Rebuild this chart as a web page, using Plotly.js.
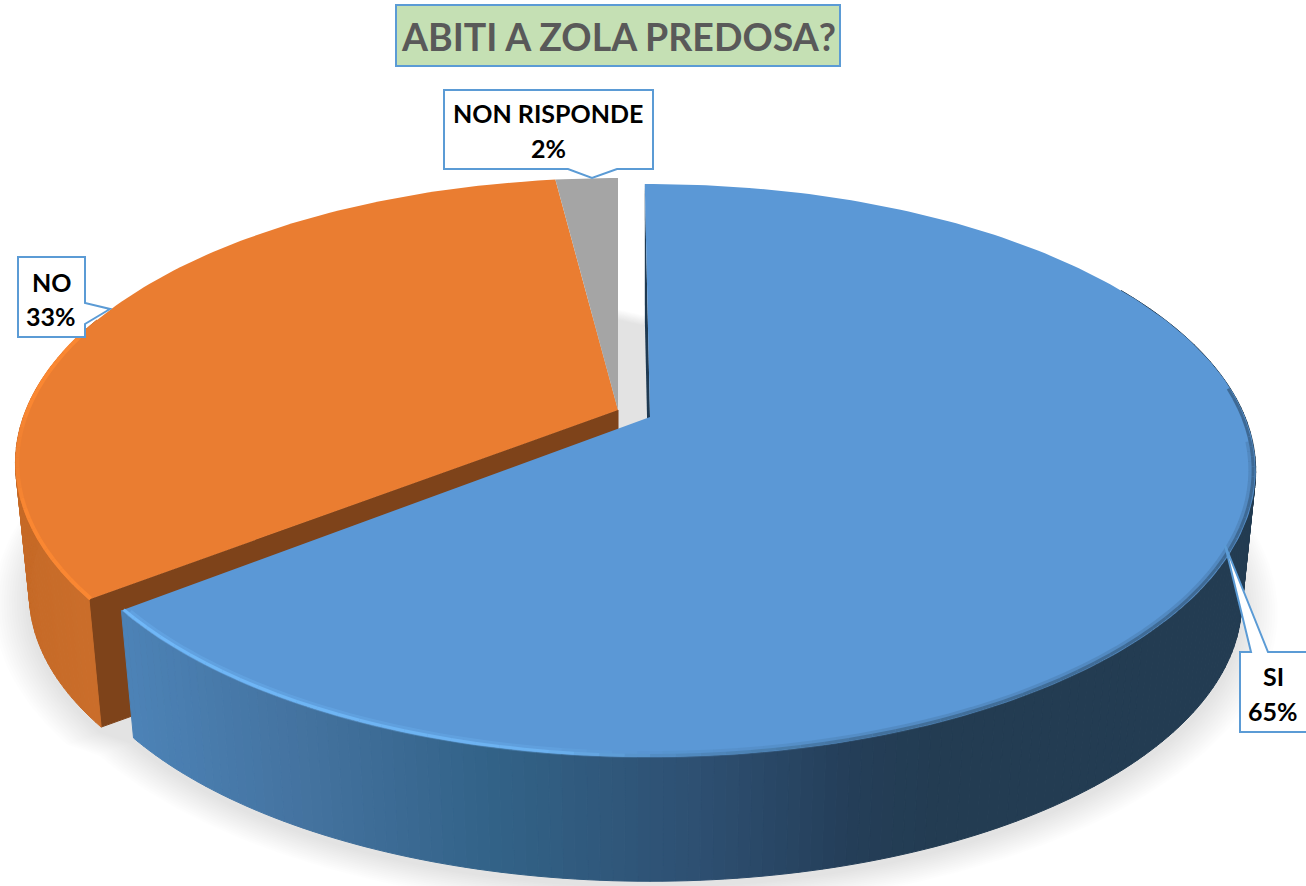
<!DOCTYPE html>
<html><head><meta charset="utf-8">
<script src="https://cdn.plot.ly/plotly-3.0.1.min.js"></script>
<style>html,body{margin:0;padding:0;background:#fff}#c{width:1306px;height:886px}</style>
</head><body><div id="c"></div>
<script>
const categories = ['SI', 'NO', 'NON RISPONDE'];
const values = [64.55, 33.45, 2.0];
const titleText = 'ABITI A ZOLA PREDOSA?';

const startDeg = -0.6, gapDeg = 0.6, P = 0.187, A = 595, B = 276.5, DEPTH = 132, SHRINK = 0.977, RO = 0.995;
const CB = [650, 417], CO = [618, 410];
const FONT = 'Lato, Carlito, sans-serif';
const total = values.reduce((a, b) => a + b, 0);
const spans = []; let acc = startDeg;
values.forEach((v, i) => { const d = v / total * 360; const g = i ? gapDeg : 0; spans.push([acc + g, acc + d + g]); acc += d; });
const [blueSpan, orangeSpan, graySpan] = spans;

function pt(deg, c, low, r) {
  r = r === undefined ? (c === CO ? RO : 1) : r;
  const t = deg * Math.PI / 180, u = r * Math.sin(t), v = -r * Math.cos(t), w = 1 - P * v;
  const s = low ? SHRINK : 1;
  return [c[0] + s * A * u / w, c[1] + (low ? DEPTH : 0) + s * B * v / w];
}
function arcPts(a, b, c, low, r) {
  const n = Math.max(2, Math.ceil(Math.abs(b - a))), o = [];
  for (let i = 0; i <= n; i++) o.push(pt(a + (b - a) * i / n, c, low, r));
  return o;
}
const traces = [];
function poly(points, color, name, lw) {
  const closed = points.concat([points[0]]);
  traces.push({type: 'scatter', mode: 'lines', x: closed.map(p => p[0]), y: closed.map(p => p[1]),
    fill: 'toself', fillcolor: color, line: {color: lw ? color : 'rgba(0,0,0,0)', width: lw || 0},
    hoverinfo: 'skip', name: name || '', showlegend: false});
}
function strokeLine(points, color, width, opacity) {
  traces.push({type: 'scatter', mode: 'lines', x: points.map(p => p[0]), y: points.map(p => p[1]),
    line: {color: color, width: width}, opacity: opacity === undefined ? 1 : opacity, hoverinfo: 'skip', showlegend: false});
}
function mixColor(stops, x) {
  const css = c => 'rgb(' + c.join(',') + ')';
  if (x <= stops[0][0]) return css(stops[0][1]);
  for (let i = 1; i < stops.length; i++) if (x <= stops[i][0]) {
    const [x0, c0] = stops[i - 1], [x1, c1] = stops[i], f = (x - x0) / (x1 - x0);
    return css(c0.map((v, k) => Math.round(v + (c1[k] - v) * f)));
  }
  return css(stops[stops.length - 1][1]);
}

// soft shadow on the floor: the whole pie outline, grown step by step
for (let i = 14; i >= 1; i--) {
  const r = 1 + i * 0.0042;
  const outline = arcPts(blueSpan[0], blueSpan[1], [CB[0], CB[1] + 5], true, r)
    .concat(arcPts(orangeSpan[0], graySpan[1], [CO[0], CO[1] + 5], true, r * RO));
  poly(outline, 'rgba(0,0,0,0.0085)');
}

// orange: cut wall, outer wall, top, rim
poly([CO, pt(orangeSpan[0], CO), pt(orangeSpan[0], CO, true), [CO[0], CO[1] + DEPTH]], '#7e431a', null, 1);
const orangeWall = [[20, [198, 106, 39]], [100, [203, 110, 43]]];
for (let d = orangeSpan[0]; d < 290; d += 1) {
  const e = d + 1;
  poly([pt(d, CO), pt(e, CO), pt(e, CO, true), pt(d, CO, true)], mixColor(orangeWall, pt(d, CO)[0]), null, 1);
}
poly([CO].concat(arcPts(orangeSpan[0], orangeSpan[1], CO)), '#ea7d31', categories[1]);
poly([CO].concat(arcPts(graySpan[0], graySpan[1], CO)), '#a5a5a5', categories[2]);
const orangeRim = [[10, [234, 125, 49]], [25, [250, 135, 50]], [95, [250, 135, 50]]];
for (let d = orangeSpan[0]; d < 285; d += 2) strokeLine([pt(d, CO, false, RO - 0.003), pt(d + 2, CO, false, RO - 0.003)], mixColor(orangeRim, pt(d, CO)[0]), 4);

// blue: inner wall, outer wall, top, rim
poly([CB, pt(blueSpan[0], CB), pt(blueSpan[0], CB, true), [CB[0], CB[1] + DEPTH]], '#1f3a52');
const blueWall = [[130, [76, 130, 182]], [300, [68, 115, 160]], [500, [50, 98, 135]], [700, [46, 80, 114]], [860, [36, 62, 88]], [940, [35, 60, 82]]];
for (let d = 60; d < blueSpan[1]; d += 1) {
  const e = Math.min(d + 1, blueSpan[1]);
  poly([pt(d, CB), pt(e, CB), pt(e, CB, true), pt(d, CB, true)], mixColor(blueWall, pt(d, CB)[0]), null, 1);
}
poly([CB].concat(arcPts(blueSpan[0], blueSpan[1], CB)), '#5b98d6', categories[0]);
const blueRim = [[120, [112, 184, 248]], [560, [108, 178, 240]], [680, [82, 140, 194]], [900, [66, 112, 155]], [1260, [62, 105, 148]]];
for (let d = 95; d < blueSpan[1] - 1; d += 2) {
  const e = Math.min(d + 2, blueSpan[1]);
  strokeLine([pt(d, CB, false, 0.994), pt(e, CB, false, 0.994)], mixColor(blueRim, pt(d, CB)[0]), 7, 0.3);
}
for (let d = 84; d < blueSpan[1] - 1; d += 2) {
  const e = Math.min(d + 2, blueSpan[1]);
  strokeLine([pt(d, CB, false, 0.996), pt(e, CB, false, 0.996)], mixColor(blueRim, pt(d, CB)[0]), 3);
}

function pct(i) { return Math.round(values[i] / total * 100) + '%'; }
const BORDER = '#5b9bd5';
const shapes = [
  {type: 'rect', xref: 'x', yref: 'y', x0: 396, x1: 840, y0: 5, y1: 66, fillcolor: '#c5e0b4', line: {color: BORDER, width: 2}},
  {type: 'path', xref: 'x', yref: 'y', path: 'M444,90 L653,90 L653,169 L617,169 L592,178 L568,169 L444,169 Z', fillcolor: '#fff', line: {color: BORDER, width: 2}},
  {type: 'path', xref: 'x', yref: 'y', path: 'M18,257 L85,257 L85,303 L110,309 L85,324 L85,337 L18,337 Z', fillcolor: '#fff', line: {color: BORDER, width: 2}},
  {type: 'path', xref: 'x', yref: 'y', path: 'M1240,652 L1251,652 L1225,545 L1268,652 L1310,652 L1310,732 L1240,732 Z', fillcolor: '#fff', line: {color: BORDER, width: 2}}
];
const note = (x, y, text, size, color) => ({xref: 'x', yref: 'y', x: x, y: y, text: '<b>' + text + '</b>', showarrow: false,
  xanchor: 'center', yanchor: 'middle', align: 'center', font: {family: FONT, size: size, color: color}});
const annotations = [
  note(618, 36, titleText, 37.5, '#595959'),
  note(548, 113, categories[2], 25, '#000'), note(548, 148, pct(2), 25, '#000'),
  note(51, 282, categories[1], 25, '#000'), note(51, 316, pct(1), 25, '#000'),
  note(1273, 676, categories[0], 25, '#000'), note(1273, 711, pct(0), 25, '#000')
];
const axisOf = r => ({range: r, visible: false, fixedrange: true, showgrid: false, zeroline: false});
Plotly.newPlot('c', traces, {
  width: 1306, height: 886, margin: {l: 0, r: 0, t: 0, b: 0}, paper_bgcolor: '#fff', plot_bgcolor: '#fff',
  showlegend: false, xaxis: axisOf([0, 1306]), yaxis: axisOf([886, 0]), shapes: shapes, annotations: annotations
}, {displayModeBar: false});
</script></body></html>
